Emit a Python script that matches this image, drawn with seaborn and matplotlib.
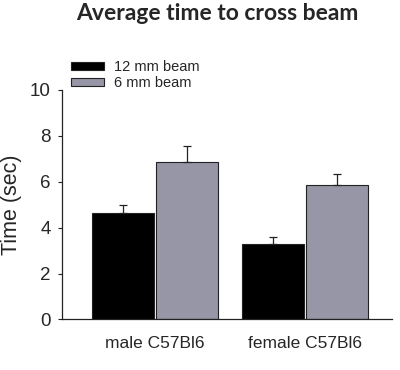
import matplotlib
matplotlib.use("Agg")
import matplotlib.pyplot as plt
import seaborn as sns
import pandas as pd
import numpy as np

groups = ["male C57Bl6", "female C57Bl6"]
beams = ["12 mm beam", "6 mm beam"]
means_12 = [4.62, 3.30]
means_6 = [6.85, 5.88]
err_12 = [0.36, 0.30]
err_6 = [0.71, 0.48]
colors = ["#000000", "#9393aa"]

df = pd.DataFrame({
    "group": groups * 2,
    "beam": [beams[0]] * 2 + [beams[1]] * 2,
    "time": means_12 + means_6,
})
errs = [err_12, err_6]

sns.set_style("white")
plt.rcParams["font.family"] = ["Liberation Sans", "DejaVu Sans"]

fig = plt.figure(figsize=(4.0, 3.7), dpi=100)
ax = fig.add_axes([0.155, 0.1365, 0.825, 0.6203])

sns.barplot(data=df, x="group", y="time", hue="beam", order=groups, hue_order=beams,
            palette=colors, width=0.86, gap=0.045, errorbar=None,
            edgecolor="#222222", linewidth=0.8, ax=ax, legend=True)

for cont, e in zip(ax.containers, errs):
    xs = [b.get_x() + b.get_width() / 2 for b in cont]
    ys = [b.get_height() for b in cont]
    ax.errorbar(xs, ys, yerr=[np.zeros(len(e)), e], fmt="none", ecolor="#222222",
                elinewidth=0.9, capsize=2.6, capthick=0.9, zorder=1)

ax.set_xlim(-0.62, 1.58)
ax.set_ylim(0, 10)
ax.set_yticks([0, 2, 4, 6, 8, 10])
ax.set_xlabel("")
ax.set_ylabel("Time (sec)", fontsize=15.5, labelpad=6)
ax.tick_params(axis="y", labelsize=13.5, length=3, width=0.8, pad=5, left=True, direction="out", color="#222222")
ax.tick_params(axis="x", labelsize=12.5, length=0, pad=12)
sns.despine(ax=ax)
for s in ["left", "bottom"]:
    ax.spines[s].set_linewidth(0.9)
    ax.spines[s].set_color("#222222")

leg = ax.get_legend()
handles = leg.legend_handles
leg.remove()
fig.legend(handles, beams, loc="upper left", bbox_to_anchor=(0.1775, 0.837),
           frameon=False, fontsize=10.5, handlelength=2.27, handleheight=0.41,
           handletextpad=0.69, labelspacing=0.12, borderpad=0, borderaxespad=0)

fig.text(0.543, 0.963, "Average time to cross beam", ha="center", va="center",
         fontsize=16.5, fontweight="bold", family=["Lato", "DejaVu Sans"])

fig.savefig("out.png", dpi=100)
